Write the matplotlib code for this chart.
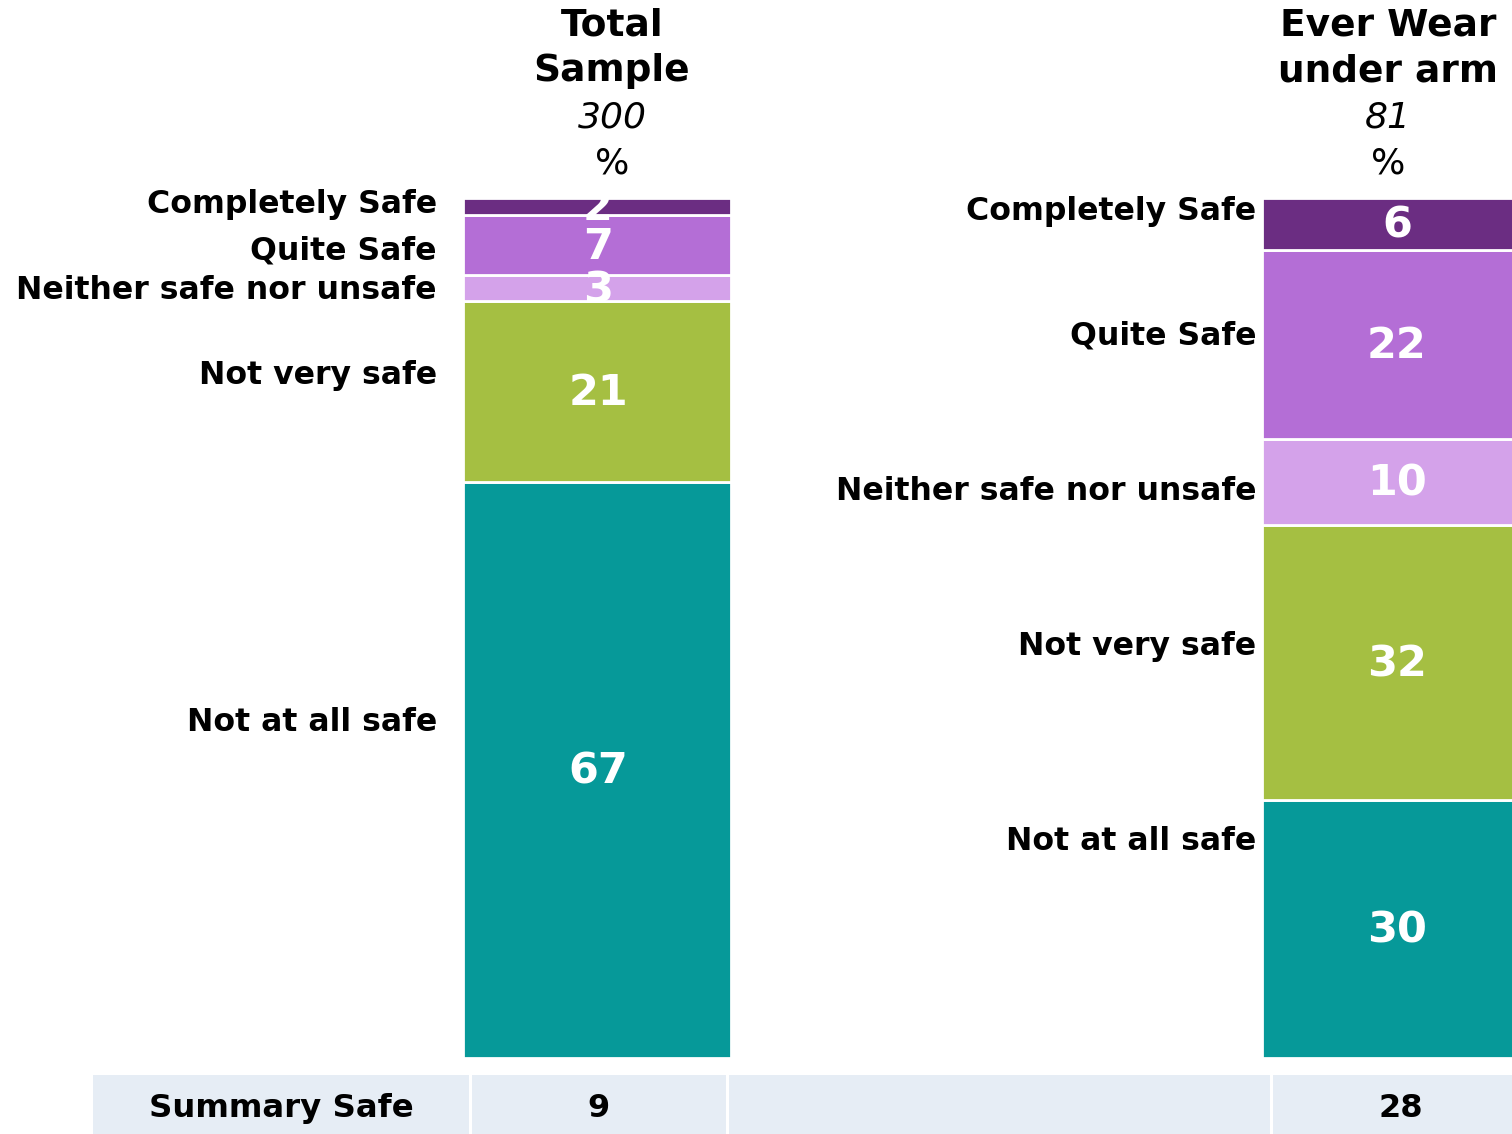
import numpy as np
import matplotlib
matplotlib.use("Agg")
from matplotlib import pyplot as plt
from matplotlib.patches import Rectangle

# data
categories = ['Not at all safe', 'Not very safe', 'Neither safe nor unsafe',
              'Quite Safe', 'Completely Safe']
groups = [('Total', 'Sample'), ('Ever Wear', 'under arm')]
bases = ['300', '81']
total_sample = [67, 21, 3, 7, 2]
ever_wear = [30, 32, 10, 22, 6]
summary_safe = [9, 28]

colors = ['#069999', '#A5BF42', '#D4A2EA', '#B46ED6', '#6B2D82']

# where the category names sit (in % units of the bar)
label_y_left = [39.0, 79.4, 89.2, 93.8, 99.3]
label_y_right = [25.2, 47.8, 65.9, 84.0, 98.4]

W, H = 1512, 1134
fig = plt.figure(figsize=(W / 100, H / 100), dpi=100)
plt.rcParams['font.family'] = ['DejaVu Sans']

def fx(px):
    return px / W

def fy(py):
    return 1 - py / H

ax = fig.add_axes([0, fy(1058), 1, (1058 - 198) / H])
ax.set_xlim(0, W)
ax.set_ylim(0, 100)
ax.axis('off')

centers = [597, 1396]
bar_w = 268
series = [total_sample, ever_wear]

for xc, vals in zip(centers, series):
    bottom = 0
    for v, c in zip(vals, colors):
        ax.bar(xc, v, bottom=bottom, width=bar_w, color=c,
               edgecolor='white', linewidth=2)
        ax.text(xc + 1, bottom + v / 2 - 0.2, str(v), ha='center', va='center',
                color='white', fontsize=31, fontweight='bold')
        bottom += v

for cat, yl, yr in zip(categories, label_y_left, label_y_right):
    ax.text(437, yl, cat, ha='right', va='center', fontsize=22.7,
            fontweight='bold', color='black')
    ax.text(1256, yr, cat, ha='right', va='center', fontsize=22.7,
            fontweight='bold', color='black')

# column headers
head_x = [612, 1388]
for hx, (g1, g2), b in zip(head_x, groups, bases):
    fig.text(fx(hx), fy(26), g1, ha='center', va='center', fontsize=27,
             fontweight='bold')
    fig.text(fx(hx), fy(71), g2, ha='center', va='center', fontsize=27,
             fontweight='bold')
    fig.text(fx(hx), fy(118), b, ha='center', va='center', fontsize=26,
             fontstyle='italic')
    fig.text(fx(hx), fy(163), '%', ha='center', va='center', fontsize=26)

# summary row
ax2 = fig.add_axes([0, 0, 1, (H - 1075) / H])
ax2.set_xlim(0, W)
ax2.set_ylim(0, 1)
ax2.axis('off')
cells = [(93, 469), (472, 726), (729, 1270), (1273, 1530)]
for x0, x1 in cells:
    ax2.add_patch(Rectangle((x0, 0), x1 - x0, 1, color='#E6EDF5', lw=0))
ax2.text(281, 0.43, 'Summary Safe', ha='center', va='center',
         fontsize=23.3, fontweight='bold')
for xc, s in zip([598, 1401], summary_safe):
    ax2.text(xc, 0.43, str(s), ha='center', va='center', fontsize=23,
             fontweight='bold')

fig.savefig('out.png', dpi=100)
